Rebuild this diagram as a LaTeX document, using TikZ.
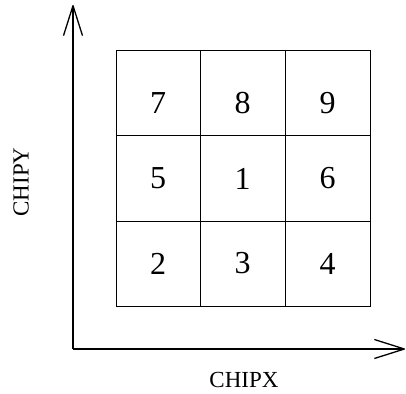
\documentclass[tikz,border=0pt]{standalone}
\usepackage{fontspec}
\setmainfont{Liberation Serif}
\usepackage{tikz}
\usetikzlibrary{arrows.meta}
\usetikzlibrary{positioning}

\begin{document}
\begin{tikzpicture}[>={Straight Barb[length=30pt,width=19pt,line join=round]}, x=1pt, y=-1pt,
    chipnum/.style={inner sep=0pt, font=\fontsize{32}{32}\selectfont},
    axislabel/.style={inner sep=0pt, font=\fontsize{23}{23}\selectfont}]

    \useasboundingbox (0,0) rectangle (406,393);

    % grid of chips
    \draw[line width=0.9pt] (116,50) rectangle (370,306);
    \draw[line width=0.9pt] (200,50) -- (200,306) (285,50) -- (285,306)
        (116,135) -- (370,135) (116,221) -- (370,221);

    \foreach \n/\x/\y in {7/158/103.5, 8/242.5/103.5, 9/327.5/103.5,
                          5/158/178.5, 1/242.5/178.5, 6/327.5/178.5,
                          2/158/263.5, 3/242.5/263.5, 4/327.5/263.5}
        \node[chipnum] (d\n) at (\x,\y) {\n};

    % axes
    \coordinate (o) at (73,349);
    \coordinate (ytip) at (73,5);
    \coordinate (xtip) at (405,349);
    \draw[->, line width=1.3pt] (o) -- (ytip);
    \draw[->, line width=1.3pt] (o) -- (xtip);

    \node[axislabel, rotate=90] (chipy) at (21,182) {CHIPY};
    \node[axislabel] (chipx) at (244,380) {CHIPX};

\end{tikzpicture}
\end{document}
